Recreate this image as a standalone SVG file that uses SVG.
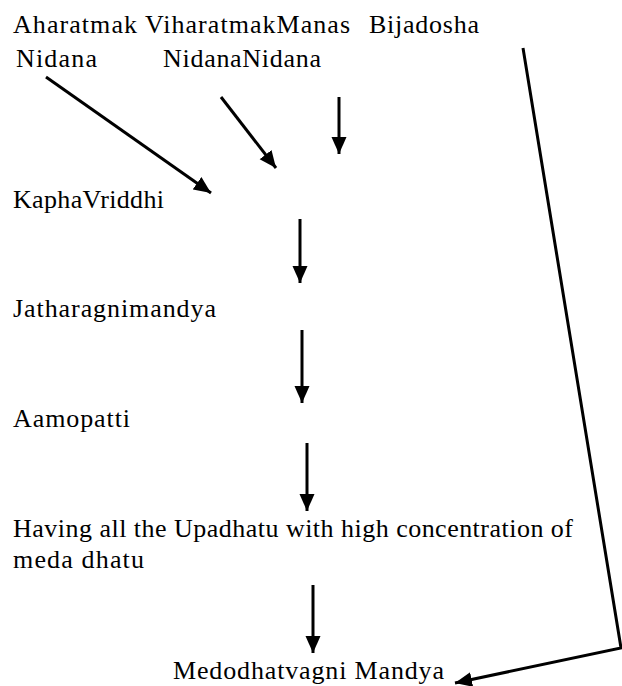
<svg xmlns="http://www.w3.org/2000/svg" width="622" height="686" viewBox="0 0 622 686">
<style>
text{font-family:"Liberation Serif","DejaVu Serif","Times New Roman",serif;font-size:26px;fill:#000}
.c{stroke:#000;stroke-width:3;fill:none}
</style>
<defs>
<marker id="ah" markerUnits="userSpaceOnUse" markerWidth="20" markerHeight="16" refX="17" refY="7.5" orient="auto">
<path d="M0,0 L17,7.5 L0,15 z" fill="#000"/>
</marker>
</defs>
<rect width="622" height="686" fill="#fff"/>
<g id="aharatmak"><text x="13" y="33" textLength="124" font-family="Liberation Serif, serif">Aharatmak</text><text x="16" y="67" textLength="81" font-family="Liberation Serif, serif">Nidana</text></g>
<g id="viharatmak-manas"><text x="145" y="33" textLength="205" font-family="Liberation Serif, serif">ViharatmakManas</text><text x="163" y="67" textLength="158" font-family="Liberation Serif, serif">NidanaNidana</text></g>
<g id="bijadosha"><text x="369" y="33" textLength="110" font-family="Liberation Serif, serif">Bijadosha</text></g>
<g id="kapha"><text x="13" y="208" textLength="151" font-family="Liberation Serif, serif">KaphaVriddhi</text></g>
<g id="jatharagni"><text x="13" y="317" textLength="203" font-family="Liberation Serif, serif">Jatharagnimandya</text></g>
<g id="aamopatti"><text x="13" y="427" textLength="117" font-family="Liberation Serif, serif">Aamopatti</text></g>
<g id="upadhatu"><text x="13" y="537" textLength="560" font-family="Liberation Serif, serif">Having all the Upadhatu with high concentration of</text><text x="13" y="568" textLength="131" font-family="Liberation Serif, serif">meda dhatu</text></g>
<g id="medodhatvagni"><text x="173" y="679" textLength="271" font-family="Liberation Serif, serif">Medodhatvagni Mandya</text></g>
<g id="connectors">
<line class="c" x1="46" y1="77" x2="211" y2="193" marker-end="url(#ah)"/>
<line class="c" x1="221" y1="97" x2="276" y2="168" marker-end="url(#ah)"/>
<line class="c" x1="339" y1="97" x2="339" y2="154" marker-end="url(#ah)"/>
<line class="c" x1="300" y1="219" x2="300" y2="283" marker-end="url(#ah)"/>
<line class="c" x1="302" y1="330" x2="302" y2="403" marker-end="url(#ah)"/>
<line class="c" x1="307" y1="443" x2="307" y2="511" marker-end="url(#ah)"/>
<line class="c" x1="313" y1="585" x2="313" y2="653" marker-end="url(#ah)"/>
<polyline class="c" points="523,48 621,648 455,683" marker-end="url(#ah)"/>
</g>
</svg>
